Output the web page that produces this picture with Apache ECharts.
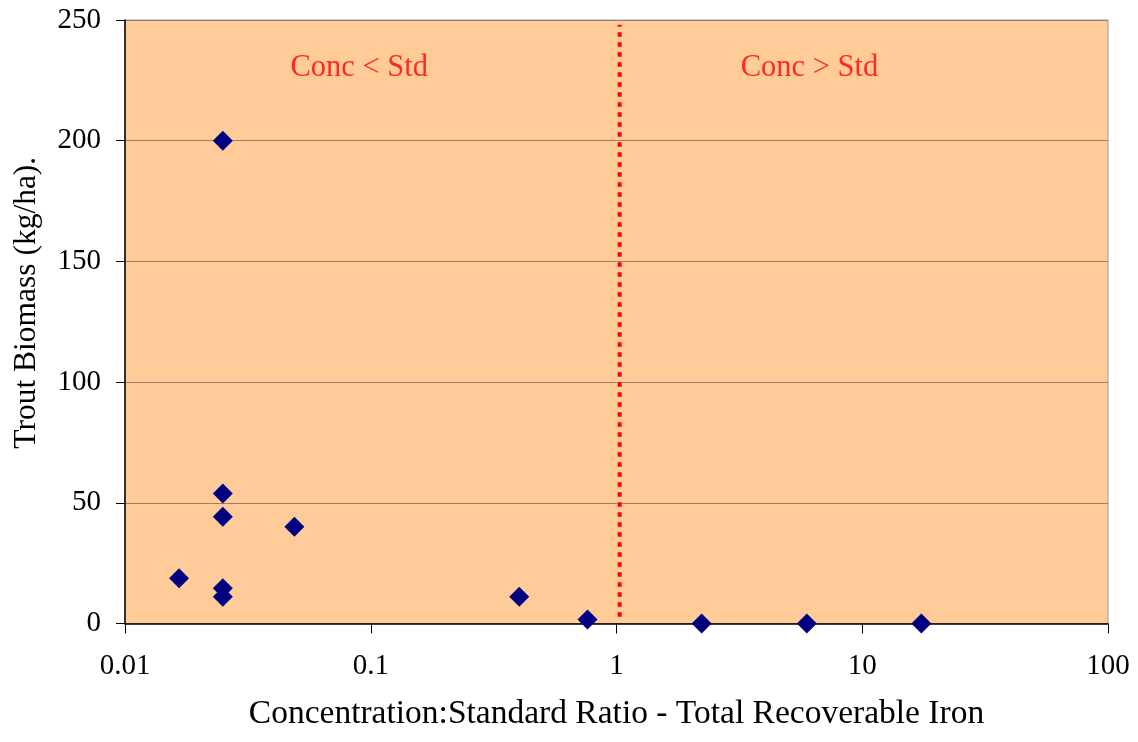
<!DOCTYPE html>
<html>
<head>
<meta charset="utf-8">
<script src="https://cdn.jsdelivr.net/npm/echarts@6/dist/echarts.min.js"></script>
<style>html,body{margin:0;padding:0;background:#fff}#c{width:1138px;height:742px}</style>
</head>
<body>
<div id="c"></div>
<script>
// Concentration:Standard ratio (x) and trout biomass (y)
var ratios = [0.0166, 0.025, 0.025, 0.025, 0.025, 0.025, 0.0489, 0.402, 0.762, 2.22, 5.95, 17.4];
var biomass = [18.7, 200, 53.9, 44.2, 14.6, 11.1, 40.1, 11.1, 1.7, 0, 0, 0];
var xTicks = [0.01, 0.1, 1, 10, 100];
var yTicks = [0, 50, 100, 150, 200, 250];
var stdLineX = [1.03, 1.03];
var stdLineY = [2.8, 248];
var noteText = ['Conc < Std', 'Conc > Std'];
var noteX = [0.0897, 6.1];
var noteY = [230, 230];

var font = '"Liberation Serif", "Times New Roman", serif';
var chart = echarts.init(document.getElementById('c'));
chart.setOption({
  animation: false,
  grid: {left: 125, right: 30, top: 20, bottom: 118.5, show: true,
         backgroundColor: '#FFCC99', borderColor: '#999999', borderWidth: 1},
  xAxis: {
    type: 'log', logBase: 10, min: xTicks[0], max: xTicks[xTicks.length - 1],
    name: 'Concentration:Standard Ratio - Total Recoverable Iron',
    nameLocation: 'middle', nameGap: 74,
    nameTextStyle: {fontFamily: font, fontSize: 33.5, color: '#000'},
    axisLine: {onZero: false, lineStyle: {color: '#000', width: 1.5}},
    axisTick: {show: true, length: 10, lineStyle: {color: '#000'}},
    minorTick: {show: false},
    splitLine: {show: false},
    axisLabel: {fontFamily: font, fontSize: 29, color: '#000', margin: 28,
      formatter: function (v) { return String(v); }}
  },
  yAxis: {
    type: 'value', min: yTicks[0], max: yTicks[yTicks.length - 1], interval: 50,
    name: 'Trout Biomass (kg/ha).', nameLocation: 'middle', nameGap: 82,
    nameTextStyle: {fontFamily: font, fontSize: 31.5, color: '#000', padding: [0, 0, 0, 38]},
    axisLine: {show: true, lineStyle: {color: '#000', width: 1.5}},
    axisTick: {show: true, length: 9, lineStyle: {color: '#000'}},
    splitLine: {show: true, lineStyle: {color: '#9b8066', width: 1}},
    axisLabel: {fontFamily: font, fontSize: 29, color: '#000', margin: 24}
  },
  series: [
    {
      type: 'line', data: stdLineX.map(function (x, i) { return [x, stdLineY[i]]; }),
      symbol: 'none', silent: true,
      lineStyle: {color: '#FF0000', width: 4, type: [4.5, 5.5], cap: 'butt'}
    },
    {
      type: 'scatter', symbol: 'diamond', symbolSize: 20,
      itemStyle: {color: '#000080', opacity: 1},
      data: ratios.map(function (x, i) { return [x, biomass[i]]; })
    },
    {
      type: 'scatter', symbolSize: 0, silent: true,
      data: noteX.map(function (x, i) { return [x, noteY[i], noteText[i]]; }),
      label: {show: true, position: 'inside', formatter: function (p) { return p.data[2]; },
        fontFamily: font, fontSize: 30.5, color: '#FF0000'}
    }
  ]
});
</script>
</body>
</html>
